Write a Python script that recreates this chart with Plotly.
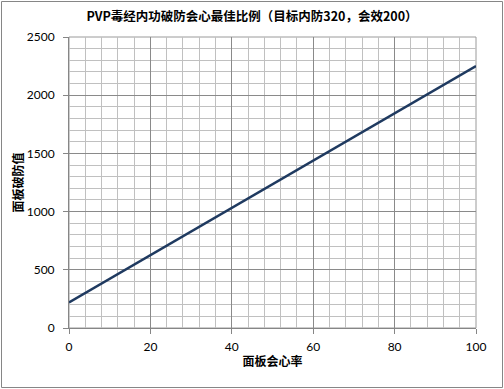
import plotly.graph_objects as go

crit_rate = [0, 10, 20, 30, 40, 50, 60, 70, 80, 90, 100]
break_val = [220, 423, 626, 829, 1032, 1235, 1438, 1641, 1844, 2047, 2250]

title_text = "PVP毒经内功破防会心最佳比例（目标内防320，会效200）"
x_title = "面板会心率"
y_title = "面板破防值"

W, H = 504, 389
L, R, T, B = 69, 28, 37, 61
pw, ph = W - L - R, H - T - B

font_lat = "Lato, 'Noto Sans CJK SC', sans-serif"
font_cjk = "'Noto Sans CJK SC', Lato, sans-serif"

fig = go.Figure()
fig.add_trace(go.Scatter(x=crit_rate, y=break_val, mode="lines",
                         line=dict(color="#1f3a60", width=2.6), showlegend=False))

fig.update_layout(
    width=W, height=H,
    margin=dict(l=L, r=R, t=T, b=B),
    paper_bgcolor="white", plot_bgcolor="white",
    title=dict(text="<b>" + title_text + "</b>", x=0.5, xanchor="center",
               y=1 - 17 / H, yanchor="middle",
               font=dict(family=font_cjk, size=12.5, color="black")),
    xaxis=dict(range=[0, 100], dtick=20, tick0=0,
               showgrid=True, gridcolor="#8a8a8a", gridwidth=1,
               minor=dict(dtick=4, showgrid=True, gridcolor="#c0c0c0", gridwidth=1),
               showline=True, linecolor="#868686", linewidth=1,
               ticks="outside", ticklen=5, tickcolor="#868686",
               ticklabelstandoff=3,
               tickfont=dict(family=font_lat, size=12, color="black"),
               zeroline=False, mirror=False,
               title=dict(text="<b>" + x_title + "</b>", standoff=4,
                          font=dict(family=font_cjk, size=12, color="black"))),
    yaxis=dict(range=[0, 2500], dtick=500, tick0=0,
               showgrid=True, gridcolor="#8a8a8a", gridwidth=1,
               minor=dict(dtick=100, showgrid=True, gridcolor="#c0c0c0", gridwidth=1),
               showline=True, linecolor="#868686", linewidth=1,
               ticks="outside", ticklen=5, tickcolor="#868686",
               ticklabelstandoff=6,
               tickfont=dict(family=font_lat, size=12, color="black"),
               zeroline=False,
               title=dict(text="<b>" + y_title + "</b>", standoff=0,
                          font=dict(family=font_cjk, size=12, color="black"))),
)

# plot area border (top/right)
fig.add_shape(type="rect", xref="paper", yref="paper", x0=0, y0=0, x1=1, y1=1,
              line=dict(color="#9a9a9a", width=1), layer="below")
# outer chart border
fig.add_shape(type="rect", xref="paper", yref="paper",
              x0=(1.5 - L) / pw, x1=1 + (R - 1.5) / pw,
              y0=-(B - 1.5) / ph, y1=1 + (T - 1.5) / ph,
              line=dict(color="#868686", width=1))

fig.write_html("out.html")
